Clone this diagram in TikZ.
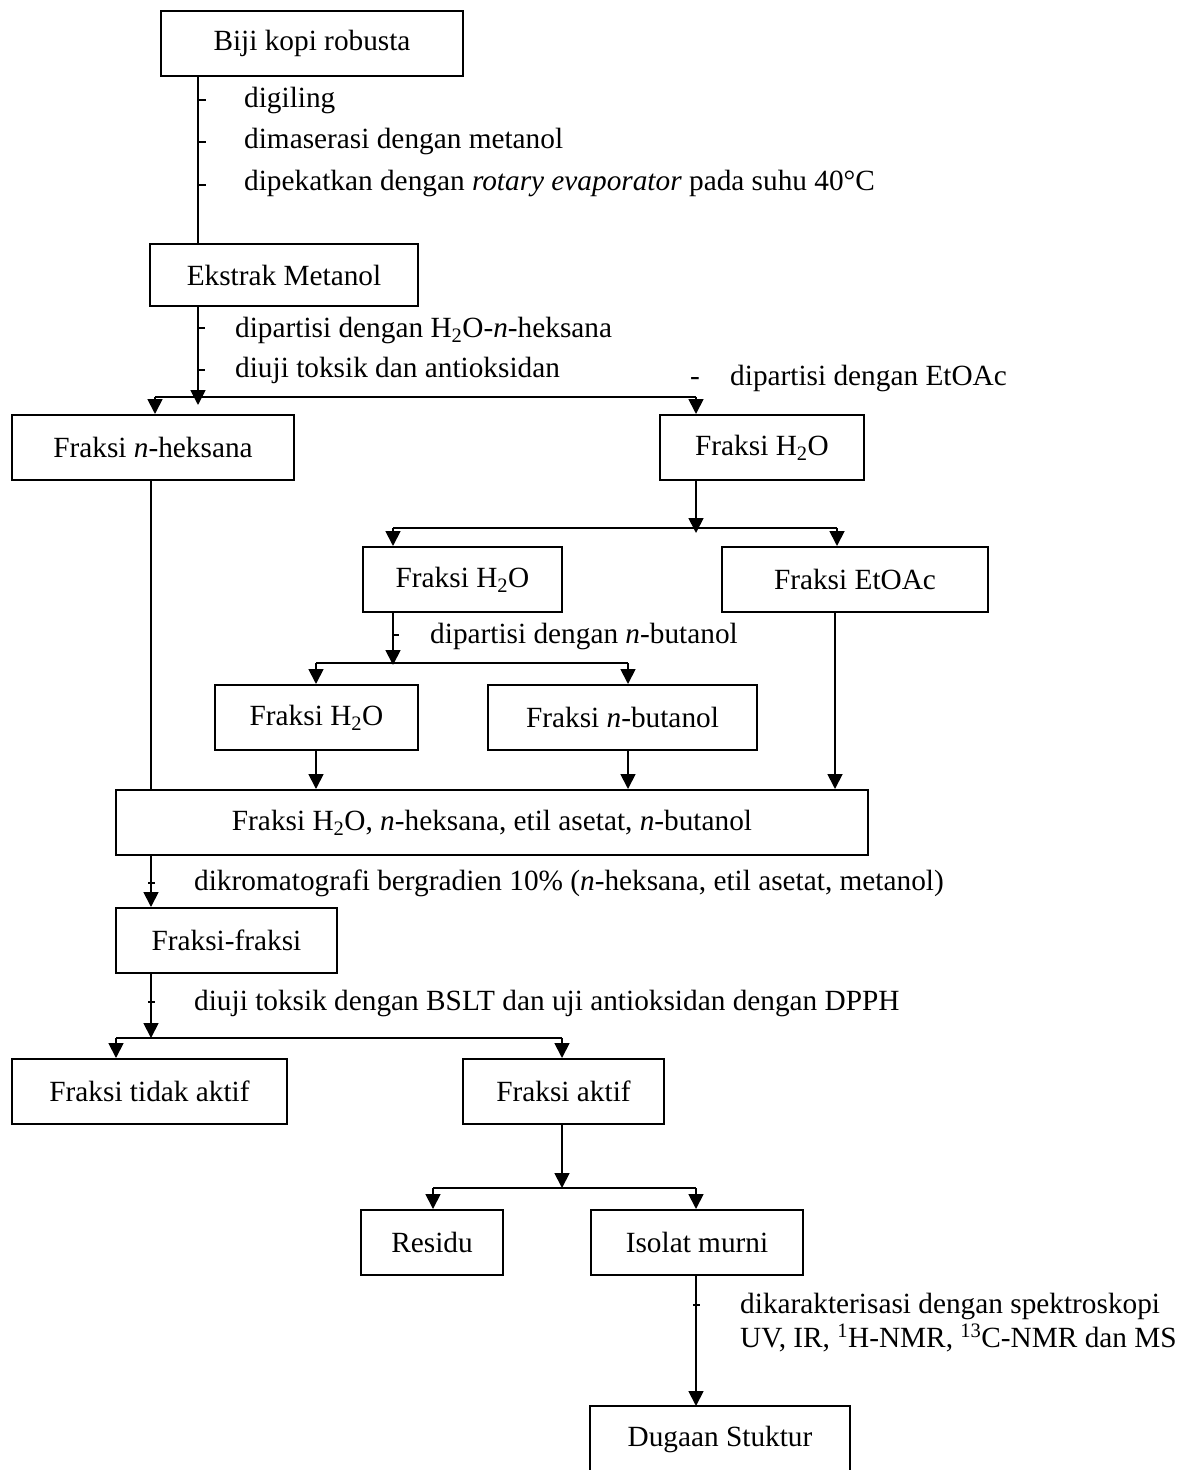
\documentclass[tikz,border=0pt]{standalone}
\usepackage{fontspec}
\setmainfont{Liberation Serif}
\usetikzlibrary{arrows.meta}
\begin{document}
\begin{tikzpicture}[x=1pt,y=-1pt,
  box/.style={draw, line width=2pt, minimum height=65pt, inner sep=0pt, font=\fontsize{29.3}{33}\selectfont},
  lbl/.style={anchor=base west, inner sep=0pt, font=\fontsize{29.3}{33}\selectfont},
  conn/.style={line width=1.8pt},
  arr/.style={conn, -{Triangle[length=15pt,width=15pt]}},
  tickmark/.style={line width=1.8pt}]
\useasboundingbox (0,0) rectangle (1179,1470);

% boxes
\node[box, minimum width=302pt] (biji) at (312,43) {Biji kopi robusta};
\node[box, minimum width=268pt, minimum height=62pt] (ekstrak) at (284,275) {Ekstrak Metanol};
\node[box, minimum width=282pt] (heks) at (153,447.5) {Fraksi \textit{n}-heksana};
\node[box, minimum width=204pt] (air1) at (762,447.5) {Fraksi H\textsubscript{2}O};
\node[box, minimum width=199pt] (air2) at (462.5,579.5) {Fraksi H\textsubscript{2}O};
\node[box, minimum width=266pt] (etoac) at (855,579.5) {Fraksi EtOAc};
\node[box, minimum width=203pt] (air3) at (316.5,717.5) {Fraksi H\textsubscript{2}O};
\node[box, minimum width=269pt] (buta) at (622.5,717.5) {Fraksi \textit{n}-butanol};
\node[box, minimum width=752pt] (gab) at (492,822.5) {Fraksi H\textsubscript{2}O, \textit{n}-heksana, etil asetat, \textit{n}-butanol};
\node[box, minimum width=221pt] (ff) at (226.5,940.5) {Fraksi-fraksi};
\node[box, minimum width=275pt] (tidak) at (149.5,1091.5) {Fraksi tidak aktif};
\node[box, minimum width=201pt] (aktif) at (563.5,1091.5) {Fraksi aktif};
\node[box, minimum width=142pt] (residu) at (432,1242.5) {Residu};
\node[box, minimum width=212pt] (isolat) at (697,1242.5) {Isolat murni};
\node[box, draw=none, minimum width=258pt] (dugaan) at (720,1439.5) {Dugaan Stuktur};
\draw[line width=2pt] ([yshift=-10pt]dugaan.south west) |- (dugaan.north east) -- ([yshift=-10pt]dugaan.south east);

% labels
\node[lbl] (l1) at (244,107) {digiling};
\node[lbl] (l2) at (244,148) {dimaserasi dengan metanol};
\node[lbl] (l3) at (244,190) {dipekatkan dengan \textit{rotary evaporator} pada suhu 40°C};
\node[lbl] (l4) at (235,337) {dipartisi dengan H\textsubscript{2}O-\textit{n}-heksana};
\node[lbl] (l5) at (235,377) {diuji toksik dan antioksidan};
\node[lbl] (l6d) at (690,385) {-};
\node[lbl] (l6) at (730,385) {dipartisi dengan EtOAc};
\node[lbl] (l7) at (430,643) {dipartisi dengan \textit{n}-butanol};
\node[lbl] (l8) at (194,890) {dikromatografi bergradien 10\% (\textit{n}-heksana, etil asetat, metanol)};
\node[lbl] (l9) at (194,1010) {diuji toksik dengan BSLT dan uji antioksidan dengan DPPH};
\node[lbl] (l10a) at (740,1313) {dikarakterisasi dengan spektroskopi};
\node[lbl] (l10b) at (740,1347) {UV, IR, \textsuperscript{1}H-NMR, \textsuperscript{13}C-NMR dan MS};

% biji -> ekstrak
\coordinate (c1) at (198,0);
\draw[conn] (biji.south -| c1) -- (ekstrak.north -| c1);
\foreach \yy in {100,142,185} \draw[tickmark] (198,\yy) -- (206,\yy);

% ekstrak -> fork 1
\coordinate (f1) at (198,397);
\draw[arr] (ekstrak.south -| f1) -- ([yshift=-8pt]f1);
\foreach \yy in {328,370} \draw[tickmark] (198,\yy) -- (205,\yy);
\coordinate (f1l) at (155,397);
\coordinate (f1r) at (696,397);
\draw[conn] (f1l) -- (f1r);
\draw[arr] (f1l) -- (f1l |- heks.north);
\draw[arr] (f1r) -- (f1r |- air1.north);

% air1 -> fork 2
\coordinate (f2) at (696,528);
\draw[arr] (air1.south -| f2) -- ([yshift=-5pt]f2);
\coordinate (f2l) at (393,528);
\coordinate (f2r) at (837,528);
\draw[conn] (f2l) -- (f2r);
\draw[arr] (f2l) -- (f2l |- air2.north);
\draw[arr] (f2r) -- (f2r |- etoac.north);

% air2 -> fork 3
\coordinate (f3) at (393,663);
\draw[arr] (air2.south -| f3) -- ([yshift=-2pt]f3);
\draw[tickmark] (393,635) -- (399,635);
\coordinate (f3l) at (316,663);
\coordinate (f3r) at (628,663);
\draw[conn] (f3l) -- (f3r);
\draw[arr] (f3l) -- (f3l |- air3.north);
\draw[arr] (f3r) -- (f3r |- buta.north);

% into combined box
\draw[arr] (air3.south -| f3l) -- (gab.north -| f3l);
\draw[arr] (buta.south -| f3r) -- (gab.north -| f3r);
\coordinate (c2) at (835,0);
\draw[arr] (etoac.south -| c2) -- (gab.north -| c2);
\coordinate (c3) at (151,0);
\draw[conn] (heks.south -| c3) -- (gab.north -| c3);

% gab -> ff
\draw[arr] (gab.south -| c3) -- (ff.north -| c3);
\draw[tickmark] (148,883) -- (155,883);

% ff -> fork 4
\coordinate (f4) at (151,1038);
\draw[arr] (ff.south -| f4) -- (f4);
\draw[tickmark] (148,1002) -- (155,1002);
\coordinate (f4l) at (116,1038);
\coordinate (f4r) at (562,1038);
\draw[conn] (f4l) -- (f4r);
\draw[arr] (f4l) -- (f4l |- tidak.north);
\draw[arr] (f4r) -- (f4r |- aktif.north);

% aktif -> fork 5
\coordinate (f5) at (562,1188);
\draw[arr] (aktif.south -| f5) -- (f5);
\coordinate (f5l) at (433,1188);
\coordinate (f5r) at (696,1188);
\draw[conn] (f5l) -- (f5r);
\draw[arr] (f5l) -- (f5l |- residu.north);
\draw[arr] (f5r) -- (f5r |- isolat.north);

% isolat -> dugaan
\draw[arr] (isolat.south -| f5r) -- (dugaan.north -| f5r);
\draw[tickmark] (693,1305) -- (700,1305);
\end{tikzpicture}
\end{document}
